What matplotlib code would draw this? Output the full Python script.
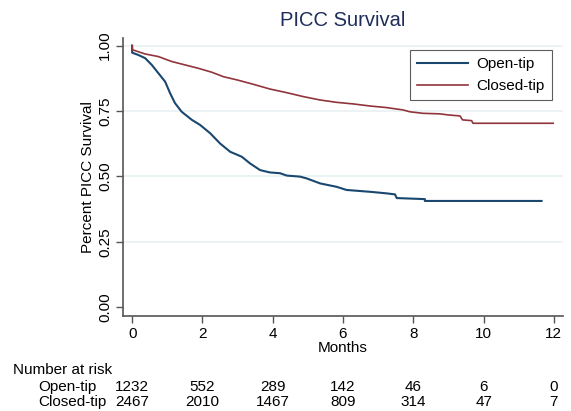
import numpy as np
import matplotlib
matplotlib.use('Agg')
import matplotlib.pyplot as plt

plt.rcParams['font.family'] = ['Liberation Sans', 'DejaVu Sans']

# curves (months, survival)
open_t = [0, 0, 0.18, 0.37, 0.56, 0.75, 0.94, 1.08, 1.22, 1.41, 1.70, 1.93,
          2.22, 2.50, 2.79, 3.12, 3.35, 3.64, 3.92, 4.21, 4.40, 4.78, 4.97,
          5.35, 5.82, 6.10, 6.77, 7.24, 7.48, 7.53, 8.33, 8.33, 11.65]
open_s = [1.0, 0.973, 0.964, 0.952, 0.926, 0.894, 0.862, 0.818, 0.780, 0.747,
          0.716, 0.697, 0.665, 0.626, 0.594, 0.575, 0.550, 0.524, 0.515, 0.512,
          0.503, 0.499, 0.492, 0.473, 0.460, 0.448, 0.441, 0.435, 0.431, 0.417,
          0.413, 0.406, 0.406]

closed_t = [0, 0.01, 0.37, 0.75, 1.13, 1.51, 1.89, 2.27, 2.60, 2.98, 3.45,
            3.92, 4.40, 4.87, 5.35, 5.82, 6.29, 6.77, 7.24, 7.71, 7.90, 8.28,
            8.76, 8.99, 9.33, 9.40, 9.66, 9.70, 11.98]
closed_s = [1.0, 0.984, 0.968, 0.958, 0.939, 0.926, 0.913, 0.898, 0.881,
            0.869, 0.852, 0.834, 0.820, 0.805, 0.792, 0.783, 0.777, 0.769,
            0.763, 0.754, 0.747, 0.741, 0.739, 0.735, 0.731, 0.716, 0.713,
            0.703, 0.703]

risk_times = [0, 2, 4, 6, 8, 10, 12]
risk_open = [1232, 552, 289, 142, 46, 6, 0]
risk_closed = [2467, 2010, 1467, 809, 314, 47, 7]

navy = '#1A476F'
maroon = '#90353B'
fs = 11

fig = plt.figure(figsize=(5.71, 4.11), dpi=100)
ax = fig.add_axes([0.2154, 0.2311, 0.7706, 0.6764])

for y in [0.25, 0.5, 0.75, 1.0]:
    ax.axhline(y, color='#EAF2F3', lw=1.3, zorder=0)

ax.plot(open_t, open_s, color=navy, lw=1.5, label='Open-tip')
ax.plot(closed_t, closed_s, color=maroon, lw=1.2, label='Closed-tip')

ax.set_xlim(-0.26, 12.26)
ax.set_ylim(-0.034, 1.029)
ax.set_xticks(risk_times)
ax.set_yticks([0, 0.25, 0.5, 0.75, 1.0])
ax.set_yticklabels(['0.00', '0.25', '0.50', '0.75', '1.00'], rotation=90,
                   va='center')
ax.tick_params(labelsize=fs, length=5, color='#555555', width=1, pad=3)
for s in ['top', 'right']:
    ax.spines[s].set_visible(False)
for s in ['left', 'bottom']:
    ax.spines[s].set_color('#555555')
    ax.spines[s].set_linewidth(1.2)

ax.set_xlabel('Months', fontsize=fs, labelpad=0)
ax.set_ylabel('Percent PICC Survival', fontsize=fs, labelpad=2)
ax.set_title('PICC Survival', fontsize=14.5, color='#1E2D5A', pad=9)

leg = ax.legend(loc='upper right', bbox_to_anchor=(0.992, 0.983),
                fontsize=fs, fancybox=False, handlelength=3.3,
                borderpad=0.45, labelspacing=0.5, handletextpad=0.6)
leg.get_frame().set_edgecolor('#333333')
leg.get_frame().set_linewidth(0.8)

# number at risk table
tr = matplotlib.transforms.blended_transform_factory(ax.transData,
                                                     fig.transFigure)
fig.text(13 / 571, 1 - 370 / 411, 'Number at risk', fontsize=fs, va='center')
fig.text(38 / 571, 1 - 386.5 / 411, 'Open-tip', fontsize=fs, va='center')
fig.text(38 / 571, 1 - 402 / 411, 'Closed-tip', fontsize=fs, va='center')
for t, a, b in zip(risk_times, risk_open, risk_closed):
    ax.text(t, 1 - 386.5 / 411, str(a), transform=tr, ha='center',
            va='center', fontsize=fs)
    ax.text(t, 1 - 402 / 411, str(b), transform=tr, ha='center',
            va='center', fontsize=fs)

fig.savefig('out.png', dpi=100)
